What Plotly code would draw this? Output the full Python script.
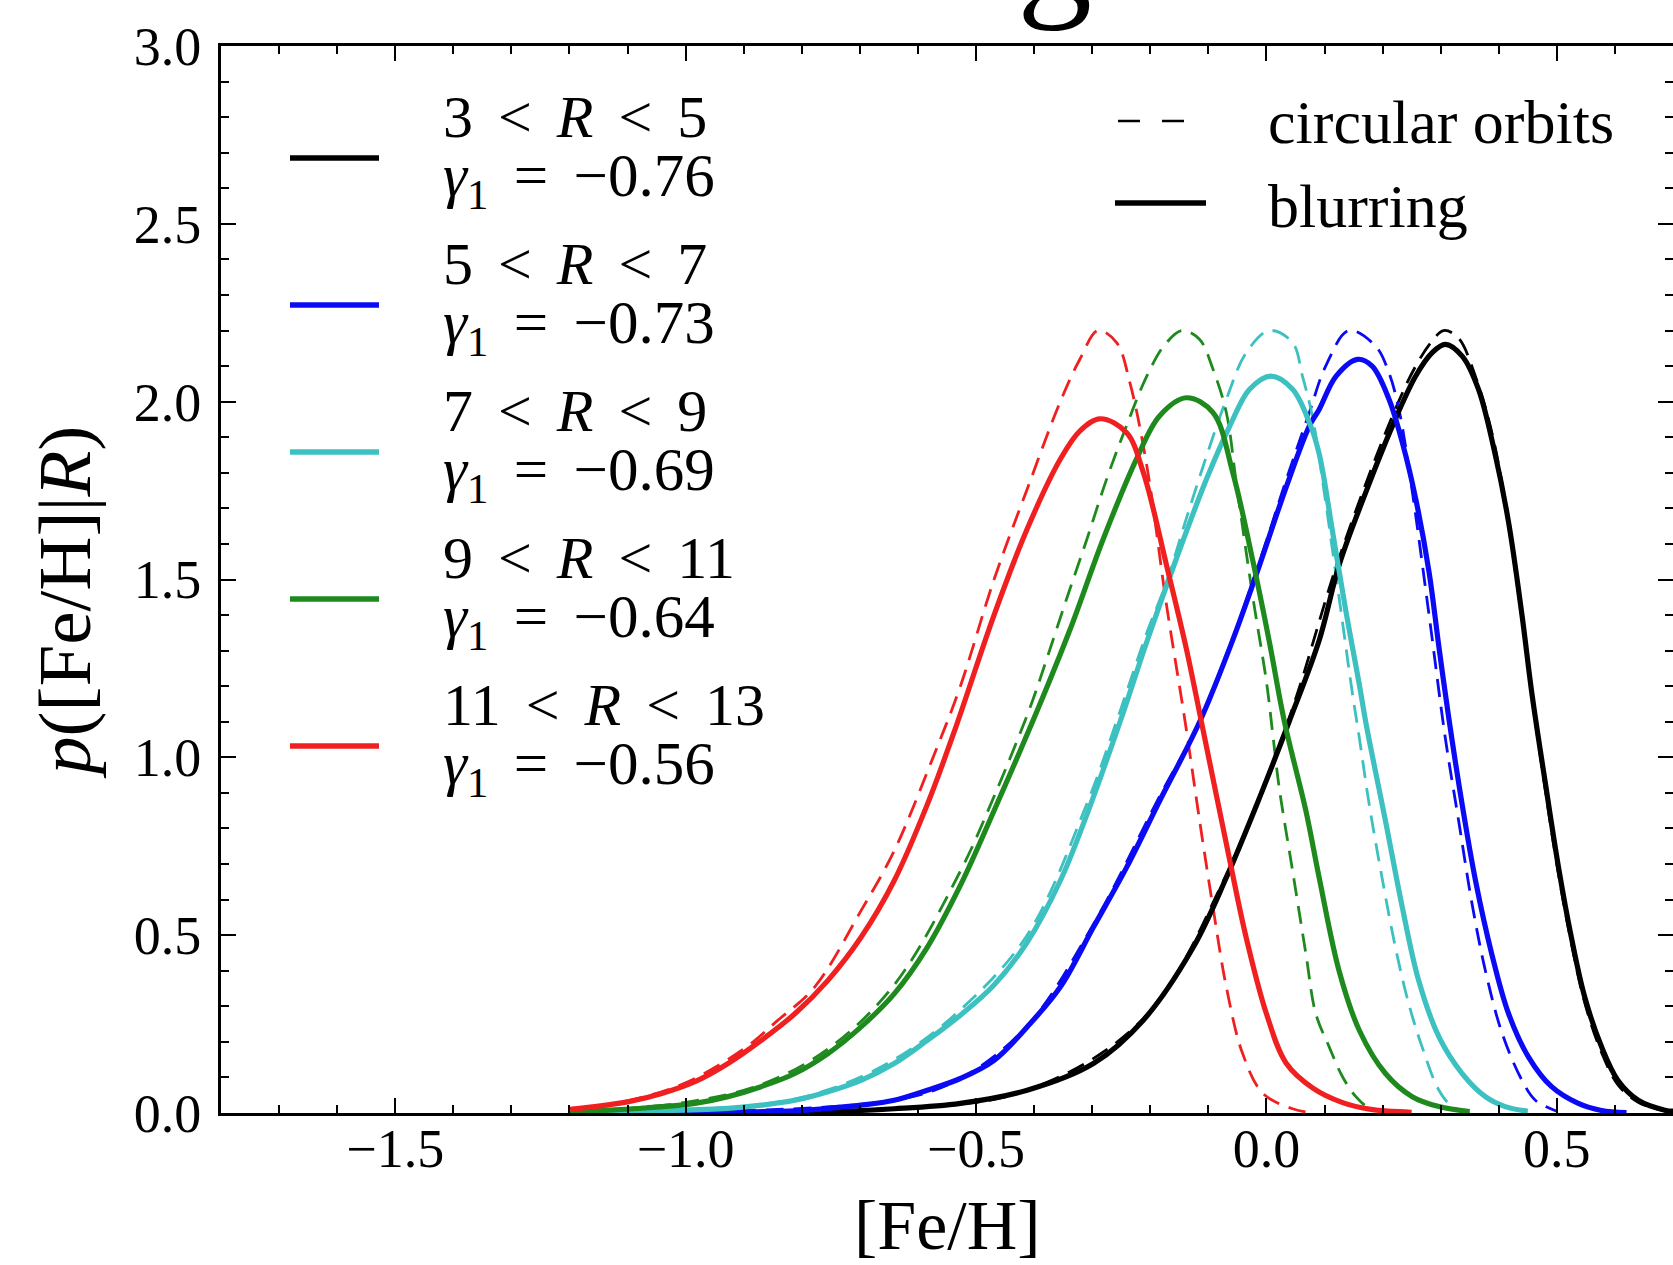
import plotly.graph_objects as go

# ---------------- data ----------------
labels_R = [("3", "5"), ("5", "7"), ("7", "9"), ("9", "11"), ("11", "13")]
gamma1 = ["−0.76", "−0.73", "−0.69", "−0.64", "−0.56"]
colors = ["#000000", "#0a0af5", "#3cc0c0", "#1e8a1e", "#f02020"]

# blurring (solid)
black_x = [-1.2, -0.8, -0.641, -0.527, -0.412, -0.298, -0.212, -0.126, -0.069, -0.012, 0.039, 0.091, 0.125,
           0.171, 0.217, 0.257, 0.285, 0.308, 0.337, 0.365, 0.394, 0.417, 0.44, 0.457, 0.48, 0.503, 0.525,
           0.548, 0.577, 0.605, 0.64, 0.686, 0.70]
black_y = [0.0, 0.002, 0.012, 0.027, 0.064, 0.139, 0.261, 0.466, 0.662, 0.886, 1.10, 1.33, 1.54,
           1.745, 1.932, 2.072, 2.137, 2.161, 2.128, 2.035, 1.85, 1.66, 1.40, 1.18, 0.93, 0.69, 0.494,
           0.326, 0.186, 0.092, 0.036, 0.008, 0.005]

blue_x = [-1.2, -0.812, -0.755, -0.698, -0.641, -0.584, -0.527, -0.469, -0.412, -0.355, -0.298, -0.241,
          -0.184, -0.115, -0.058, -0.012, 0.034, 0.074, 0.091, 0.12, 0.157, 0.182, 0.211, 0.234, 0.257, 0.28,
          0.297, 0.314, 0.337, 0.36, 0.388, 0.417, 0.451, 0.491, 0.537, 0.577, 0.62]
blue_y = [0.0, 0.006, 0.013, 0.022, 0.036, 0.064, 0.097, 0.148, 0.242, 0.354, 0.522, 0.69,
          0.877, 1.10, 1.33, 1.54, 1.76, 1.932, 1.979, 2.072, 2.119, 2.10, 2.007, 1.885, 1.727, 1.521,
          1.31, 1.11, 0.867, 0.653, 0.447, 0.279, 0.158, 0.074, 0.027, 0.007, 0.001]

cyan_x = [-1.2, -0.927, -0.87, -0.812, -0.755, -0.698, -0.641, -0.584, -0.527, -0.469, -0.412, -0.355,
          -0.309, -0.252, -0.206, -0.155, -0.103, -0.063, -0.029, 0.008, 0.045, 0.074, 0.091, 0.114, 0.137,
          0.16, 0.172, 0.205, 0.234, 0.262, 0.297, 0.337, 0.377, 0.411, 0.45]
cyan_y = [0.001, 0.013, 0.022, 0.036, 0.06, 0.092, 0.139, 0.204, 0.275, 0.36, 0.48, 0.653,
          0.84, 1.10, 1.325, 1.559, 1.783, 1.932, 2.035, 2.072, 2.035, 1.941, 1.852, 1.633, 1.409,
          1.204, 1.09, 0.821, 0.578, 0.373, 0.214, 0.111, 0.046, 0.018, 0.005]

green_x = [-1.2, -1.13, -1.07, -0.984, -0.927, -0.87, -0.812, -0.755, -0.698, -0.641, -0.584, -0.527,
           -0.469, -0.395, -0.338, -0.281, -0.224, -0.184, -0.138, -0.092, -0.058, -0.023, 0.005, 0.031,
           0.068, 0.091, 0.125, 0.16, 0.205, 0.251, 0.297, 0.35]
green_y = [0.003, 0.008, 0.014, 0.027, 0.046, 0.074, 0.111, 0.167, 0.242, 0.335, 0.466, 0.64,
           0.85, 1.13, 1.36, 1.614, 1.838, 1.96, 2.011, 1.969, 1.801, 1.549, 1.325, 1.10,
           0.849, 0.66, 0.40, 0.232, 0.111, 0.046, 0.018, 0.004]

red_x = [-1.2, -1.156, -1.098, -1.041, -0.984, -0.927, -0.87, -0.812, -0.755, -0.698, -0.641, -0.584,
         -0.538, -0.469, -0.412, -0.355, -0.321, -0.286, -0.241, -0.212, -0.172, -0.138, -0.112, -0.063,
         -0.035, 0.0, 0.034, 0.08, 0.13, 0.18, 0.25]
red_y = [0.010, 0.018, 0.032, 0.055, 0.088, 0.139, 0.204, 0.279, 0.373, 0.494, 0.653, 0.867,
         1.07, 1.40, 1.642, 1.838, 1.918, 1.952, 1.913, 1.801, 1.54, 1.306, 1.10, 0.709,
         0.494, 0.279, 0.14, 0.07, 0.03, 0.01, 0.002]

# circular orbits (dashed)
black_c_x = [-1.2, -0.641, -0.412, -0.212, -0.069, 0.039, 0.125, 0.217, 0.257, 0.285, 0.305, 0.33, 0.36,
             0.394, 0.44, 0.457, 0.48, 0.503, 0.525, 0.548, 0.577, 0.605, 0.64, 0.686, 0.70]
black_c_y = [0.0, 0.012, 0.064, 0.265, 0.67, 1.11, 1.56, 1.96, 2.10, 2.17, 2.20, 2.18, 2.07,
             1.87, 1.39, 1.17, 0.91, 0.67, 0.478, 0.31, 0.17, 0.08, 0.03, 0.006, 0.004]

blue_c_x = [-1.2, -0.641, -0.527, -0.412, -0.298, -0.184, -0.103, -0.012, 0.034, 0.074, 0.102, 0.142,
            0.188, 0.211, 0.228, 0.25, 0.28, 0.308, 0.331, 0.354, 0.377, 0.406, 0.44, 0.463, 0.50]
blue_c_y = [0.0, 0.036, 0.097, 0.245, 0.53, 0.89, 1.14, 1.55, 1.78, 1.97, 2.10, 2.20,
            2.156, 2.081, 1.979, 1.76, 1.40, 1.054, 0.821, 0.588, 0.40, 0.223, 0.092, 0.036, 0.005]

cyan_c_x = [-1.2, -0.87, -0.755, -0.641, -0.527, -0.412, -0.309, -0.252, -0.206, -0.172, -0.138, -0.103,
            -0.069, -0.035, 0.005, 0.045, 0.062, 0.079, 0.10, 0.125, 0.148, 0.16, 0.177, 0.2, 0.222,
            0.245, 0.268, 0.297, 0.32, 0.35]
cyan_c_y = [0.001, 0.024, 0.065, 0.15, 0.29, 0.50, 0.87, 1.13, 1.35, 1.493, 1.671, 1.848,
            2.007, 2.137, 2.20, 2.166, 2.072, 1.96, 1.74, 1.45, 1.18, 1.054, 0.867, 0.653, 0.466,
            0.307, 0.186, 0.064, 0.018, 0.0]

green_c_x = [-1.2, -1.0, -0.87, -0.755, -0.641, -0.527, -0.469, -0.407, -0.378, -0.344, -0.309, -0.275,
             -0.241, -0.206, -0.175, -0.145, -0.115, -0.092, -0.069, -0.052, -0.023, 0.0, 0.011, 0.022,
             0.045, 0.068, 0.085, 0.108, 0.131, 0.154, 0.177, 0.21]
green_c_y = [0.003, 0.03, 0.08, 0.18, 0.36, 0.68, 0.89, 1.14, 1.278, 1.446, 1.614, 1.783,
             1.932, 2.072, 2.16, 2.20, 2.175, 2.091, 1.969, 1.773, 1.446, 1.213, 1.064, 0.914,
             0.681, 0.447, 0.279, 0.186, 0.102, 0.046, 0.014, 0.002]

red_c_x = [-1.2, -1.1, -1.0, -0.9, -0.841, -0.778, -0.698, -0.641, -0.572, -0.527, -0.469, -0.412,
           -0.355, -0.321, -0.29, -0.258, -0.235, -0.206, -0.172, -0.14, -0.115, -0.092, -0.069, -0.041,
           -0.006, 0.045, 0.08]
red_c_y = [0.010, 0.034, 0.085, 0.18, 0.261, 0.354, 0.569, 0.737, 1.008, 1.20, 1.50, 1.754,
           2.0, 2.12, 2.20, 2.166, 2.053, 1.82, 1.428, 1.10, 0.821, 0.578, 0.354, 0.167,
           0.055, 0.012, 0.0]

x_range = [-1.8, 0.7]
y_range = [0.0, 3.0]

solid_x = [black_x, blue_x, cyan_x, green_x, red_x]
solid_y = [black_y, blue_y, cyan_y, green_y, red_y]
dash_x = [black_c_x, blue_c_x, cyan_c_x, green_c_x, red_c_x]
dash_y = [black_c_y, blue_c_y, cyan_c_y, green_c_y, red_c_y]

# ---------------- figure ----------------
W, H = 1673, 1265
ML, MR, MT, MB = 221, 0, 46, 152
PW, PH = W - ML - MR, H - MT - MB


def px(x):
    return (x - ML) / PW


def py(y):
    return (H - MB - y) / PH


SERIF = "Liberation Serif, Times New Roman, serif"
SP = "\u2006"  # small extra space, mimics TeX spacing around relations

fig = go.Figure()
for i in range(5):
    fig.add_trace(go.Scatter(x=dash_x[i], y=dash_y[i], mode="lines", showlegend=False,
                             line=dict(color=colors[i], width=2.8, dash="18px,10px",
                                       shape="spline", smoothing=1.0),
                             hoverinfo="skip"))
for i in range(5):
    fig.add_trace(go.Scatter(x=solid_x[i], y=solid_y[i], mode="lines", showlegend=False,
                             line=dict(color=colors[i], width=5.2, shape="spline", smoothing=1.0),
                             hoverinfo="skip"))

shapes = []
annotations = []
# left legend (radius bins)
for k in range(5):
    ys = 158 + 147 * k
    lo, hi = labels_R[k]
    shapes.append(dict(type="line", xref="paper", yref="paper", x0=px(290), x1=px(379),
                       y0=py(ys), y1=py(ys), line=dict(color=colors[k], width=5.5)))
    annotations.append(dict(xref="paper", yref="paper", x=px(441), y=py(117 + 147 * k),
                            xanchor="left", yanchor="middle", showarrow=False,
                            text=f"{lo} {SP}&lt;{SP} <i>R</i> {SP}&lt;{SP} {hi}",
                            font=dict(family=SERIF, size=60, color="black")))
    annotations.append(dict(xref="paper", yref="paper", x=px(441), y=py(180 + 147 * k),
                            xanchor="left", yanchor="middle", showarrow=False,
                            text="<i>γ</i><sub>1</sub> " + SP + "=" + SP + " " + gamma1[k],
                            font=dict(family=SERIF, size=61, color="black")))

# right legend (line styles)
shapes.append(dict(type="line", xref="paper", yref="paper", x0=px(1118), x1=px(1184),
                   y0=py(121), y1=py(121), line=dict(color="black", width=2.5, dash="22px,22px")))
shapes.append(dict(type="line", xref="paper", yref="paper", x0=px(1115), x1=px(1206),
                   y0=py(203), y1=py(203), line=dict(color="black", width=5.5)))
annotations.append(dict(xref="paper", yref="paper", x=px(1266), y=py(122), xanchor="left",
                        yanchor="middle", showarrow=False, text="circular orbits",
                        font=dict(family=SERIF, size=62, color="black")))
annotations.append(dict(xref="paper", yref="paper", x=px(1266), y=py(206), xanchor="left",
                        yanchor="middle", showarrow=False, text="blurring",
                        font=dict(family=SERIF, size=62, color="black")))
# axis titles
annotations.append(dict(xref="paper", yref="paper", x=px(947), y=py(1225), xanchor="center",
                        yanchor="middle", showarrow=False, text="[Fe/H]",
                        font=dict(family=SERIF, size=70, color="black")))
annotations.append(dict(xref="paper", yref="paper", x=px(64), y=py(603), xanchor="center",
                        yanchor="middle", showarrow=False, textangle=-90,
                        text="<i>p</i>([Fe/H]|<i>R</i>)",
                        font=dict(family=SERIF, size=75, color="black")))
# cropped glyph at the top edge
annotations.append(dict(xref="paper", yref="paper", x=px(1054), y=1.0, xanchor="center",
                        yanchor="bottom", yshift=13, showarrow=False, text="g",
                        font=dict(family=SERIF, size=150, color="black")))

axis_common = dict(showgrid=False, zeroline=False, showline=True, linecolor="black", linewidth=3,
                   mirror="ticks", ticks="inside", ticklen=15, tickwidth=2, tickcolor="black",
                   tickfont=dict(family=SERIF, size=54, color="black"), tickformat=".1f",
                   tick0=0, dtick=0.5,
                   minor=dict(ticks="inside", ticklen=8, tickwidth=1.5, tickcolor="black", dtick=0.1,
                              showgrid=False))

fig.update_layout(
    width=W, height=H, margin=dict(l=ML, r=MR, t=MT, b=MB, autoexpand=False),
    paper_bgcolor="white", plot_bgcolor="white", showlegend=False,
    xaxis=dict(range=x_range, ticklabelstandoff=-14, **axis_common),
    yaxis=dict(range=y_range, ticklabelstandoff=6, **axis_common),
    shapes=shapes, annotations=annotations,
)

fig.write_html("out.html")
